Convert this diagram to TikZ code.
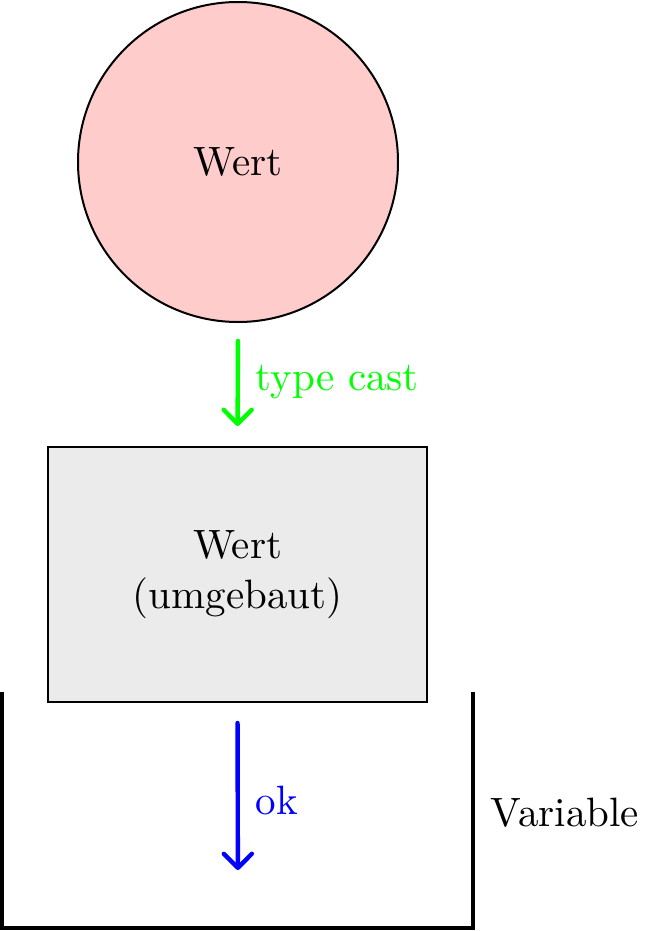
\documentclass[tikz,border=0pt]{standalone}
\usetikzlibrary{arrows.meta}
\begin{document}
\begin{tikzpicture}[x=0.25pt,y=-0.25pt,
  every node/.style={font=\fontsize{10.25}{12.5}\selectfont},
  shapeline/.style={draw=black,line width=0.5pt},
  flow/.style={line width=1.1pt,-{Straight Barb[length=3.5pt,width=7pt,round]},line cap=round},
  lbl/.style={anchor=west,inner sep=0pt}]
\useasboundingbox (0,0) rectangle (653,931);
\node[shapeline,circle,fill=red!20,minimum size=80pt,inner sep=0pt] (wert) at (238,162) {Wert};
\node[shapeline,rectangle,fill=black!8,minimum width=94.75pt,minimum height=63.75pt,inner sep=0pt,align=center] (umg) at (237.5,574.5) {Wert\\(umgebaut)};
\coordinate (tl) at (2,692);
\coordinate (bl) at (2,928);
\coordinate (br) at (473,928);
\coordinate (tr) at (473,692);
\coordinate (bottom) at (238,928);
\draw[line width=1pt] (tl) -- (bl) -- (br) -- (tr);
\draw[flow,green,shorten <=4.5pt,shorten >=5pt] (wert.south) -- (umg.north);
\draw[flow,blue,shorten <=5pt,shorten >=14.5pt] (umg.south) -- (bottom);
\node[lbl,green] (tc) at (255,382) {type cast};
\node[lbl,blue] (ok) at (255,800) {ok};
\node[lbl] (var) at (490,813) {Variable};
\end{tikzpicture}
\end{document}
